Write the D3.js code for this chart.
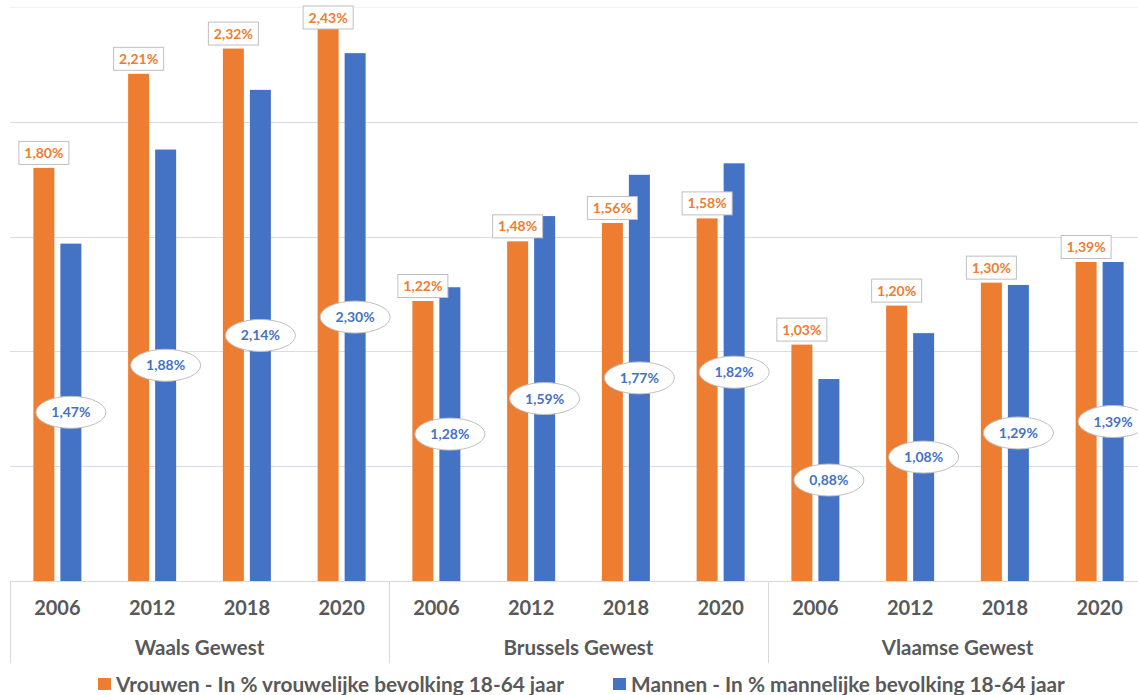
<!DOCTYPE html>
<html><head><meta charset="utf-8">
<script src="https://cdn.jsdelivr.net/npm/d3@7"></script>
<style>body{margin:0;background:#fff;} svg{display:block;font-family:Lato,"Open Sans",sans-serif;}</style>
</head><body>
<svg id="c" width="1138" height="695"></svg>
<script>
const groups = ["Waals Gewest", "Brussels Gewest", "Vlaamse Gewest"];
const years = ["2006", "2012", "2018", "2020"];
const vrouwen = [1.80, 2.21, 2.32, 2.43, 1.22, 1.48, 1.56, 1.58, 1.03, 1.20, 1.30, 1.39];
const mannen  = [1.47, 1.88, 2.14, 2.30, 1.28, 1.59, 1.77, 1.82, 0.88, 1.08, 1.29, 1.39];
const yTicks = [0, 0.5, 1.0, 1.5, 2.0, 2.5];
const seriesNames = ["Vrouwen - In % vrouwelijke bevolking 18-64 jaar", "Mannen - In % mannelijke bevolking 18-64 jaar"];
const colors = ["#ED7D31", "#4472C4"];

const svg = d3.select("#c");
const left = 10, right = 1147, base = 581;
const cats = [];
groups.forEach(g => years.forEach(y => cats.push(g + "|" + y)));

const x = d3.scaleBand().domain(cats).range([left, right]).paddingInner(0).paddingOuter(0);
const xg = d3.scaleBand().domain(groups).range([left, right]);
const y = d3.scaleLinear().domain([0, 2.5]).range([base, base - 573.75]);
const barW = 21, gap = 6;

// gridlines
svg.append("g").selectAll("line").data(yTicks.filter(d => d > 0)).join("line")
  .attr("x1", left).attr("x2", 1138)
  .attr("y1", d => Math.round(y(d)) + 0.5).attr("y2", d => Math.round(y(d)) + 0.5)
  .attr("stroke", d => d === 2.5 ? "#eef2f8" : "#d5dcec").attr("stroke-width", 1);

// bars
const data = cats.map((c, i) => ({c, v: vrouwen[i], m: mannen[i]}));
const cx = d => x(d.c) + x.bandwidth() / 2;
svg.append("g").selectAll("rect").data(data).join("rect")
  .attr("x", d => cx(d) - gap / 2 - barW).attr("width", barW)
  .attr("y", d => y(d.v)).attr("height", d => base - y(d.v))
  .attr("fill", colors[0]);
svg.append("g").selectAll("rect").data(data).join("rect")
  .attr("x", d => cx(d) + gap / 2).attr("width", barW)
  .attr("y", d => y(d.m)).attr("height", d => base - y(d.m))
  .attr("fill", colors[1]);

// axis line & separators
svg.append("line").attr("x1", left).attr("x2", 1138).attr("y1", base + 0.5).attr("y2", base + 0.5)
  .attr("stroke", "#d9d9d9");
svg.append("g").selectAll("line").data(groups).join("line")
  .attr("x1", d => Math.round(xg(d)) + 0.5).attr("x2", d => Math.round(xg(d)) + 0.5)
  .attr("y1", base).attr("y2", 663).attr("stroke", "#d9d9d9");

const fmt = v => d3.format(".2f")(v).replace(".", ",") + "%";

// orange labels (boxes), kept inside chart area
const ol = svg.append("g").selectAll("g").data(data).join("g")
  .attr("transform", d => `translate(${cx(d) - gap / 2 - barW / 2},${Math.max(y(d.v) - 15, 17.5)})`);
ol.append("rect").attr("x", -25).attr("y", -11.5).attr("width", 50).attr("height", 23)
  .attr("fill", "#fff").attr("stroke", "#bfbfbf").attr("stroke-width", 1);
ol.append("text").attr("text-anchor", "middle").attr("dy", "0.36em")
  .attr("font-size", 14).attr("font-weight", "bold").attr("fill", colors[0])
  .text(d => fmt(d.v));

// blue labels (ellipses)
const bl = svg.append("g").selectAll("g").data(data).join("g")
  .attr("transform", d => `translate(${cx(d) + gap / 2 + barW / 2},${(y(d.m) + base) / 2})`);
bl.append("ellipse").attr("rx", 35).attr("ry", 16)
  .attr("fill", "#fff").attr("stroke", "#bfbfbf").attr("stroke-width", 1);
bl.append("text").attr("text-anchor", "middle").attr("dy", "0.36em")
  .attr("font-size", 14).attr("font-weight", "bold").attr("fill", colors[1])
  .text(d => fmt(d.m));

// year labels
svg.append("g").selectAll("text").data(cats).join("text")
  .attr("x", d => x(d) + x.bandwidth() / 2).attr("y", 608).attr("dy", "0.36em")
  .attr("text-anchor", "middle").attr("font-size", 20).attr("font-weight", "bold")
  .attr("fill", "#595959").text(d => d.split("|")[1]);

// group labels
svg.append("g").selectAll("text").data(groups).join("text")
  .attr("x", d => xg(d) + xg.bandwidth() / 2).attr("y", 648).attr("dy", "0.36em")
  .attr("text-anchor", "middle").attr("font-size", 20.5).attr("font-weight", "bold")
  .attr("fill", "#595959").text(d => d);

// legend
const legX = [98, 613];
const lg = svg.append("g").selectAll("g").data(seriesNames).join("g")
  .attr("transform", (d, i) => `translate(${legX[i]},684)`);
lg.append("rect").attr("x", 0).attr("y", -6).attr("width", 13).attr("height", 12)
  .attr("fill", (d, i) => colors[i]);
lg.append("text").attr("x", 18).attr("dy", "0.36em").attr("font-size", 20.8)
  .attr("font-weight", "bold").attr("fill", "#595959").text(d => d);
</script>
</body></html>
